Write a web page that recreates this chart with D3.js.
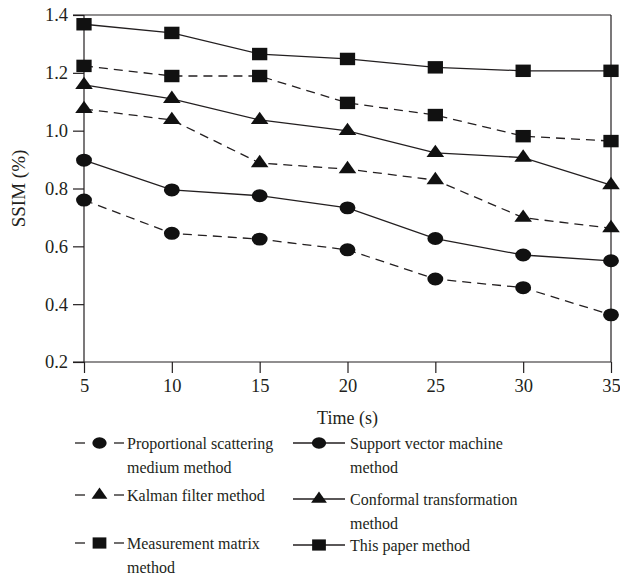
<!DOCTYPE html>
<html>
<head>
<style>
  body { margin: 0; background: #fff; }
  text { font-family: "Liberation Serif", "DejaVu Serif", serif; fill: #231f20; }
</style>
</head>
<body>
<script src="https://d3js.org/d3.v7.min.js"></script>
<script>
const width = 620, height = 576;
const margin = {left: 84, right: 9, top: 15, bottom: 214};

const times = [5, 10, 15, 20, 25, 30, 35];
const yTicks = [0.2, 0.4, 0.6, 0.8, 1.0, 1.2, 1.4];

// SSIM values
const proportional = [0.76, 0.645, 0.625, 0.588, 0.487, 0.457, 0.363];
const kalman       = [1.075, 1.037, 0.888, 0.867, 0.829, 0.699, 0.663];
const measurement  = [1.224, 1.189, 1.189, 1.096, 1.054, 0.981, 0.964];
const svm          = [0.898, 0.795, 0.775, 0.733, 0.627, 0.570, 0.550];
const conformal    = [1.158, 1.110, 1.037, 0.999, 0.923, 0.907, 0.812];
const thisPaper    = [1.368, 1.338, 1.265, 1.248, 1.219, 1.207, 1.207];

const series = [
  {name: ["Proportional scattering", "medium method"], values: proportional, dash: true, sym: "circle", col: 0, y: 443},
  {name: ["Kalman filter method"], values: kalman, dash: true, sym: "triangle", col: 0, y: 495},
  {name: ["Measurement matrix", "method"], values: measurement, dash: true, sym: "square", col: 0, y: 543},
  {name: ["Support vector machine", "method"], values: svm, dash: false, sym: "circle", col: 1, y: 443},
  {name: ["Conformal transformation", "method"], values: conformal, dash: false, sym: "triangle", col: 1, y: 499},
  {name: ["This paper method"], values: thisPaper, dash: false, sym: "square", col: 1, y: 545}
];

const svg = d3.select("body").append("svg").attr("width", width).attr("height", height);

const x = d3.scaleLinear().domain([5, 35]).range([margin.left, width - margin.right]);
const y = d3.scaleLinear().domain([0.2, 1.4]).range([height - margin.bottom, margin.top]);

const symbols = {
  circle: d3.symbol(d3.symbolCircle, 170),
  triangle: d3.symbol(d3.symbolTriangle, 115),
  square: d3.symbol(d3.symbolSquare, 200)
};

function marker(g, type, cx, cy, k = 1) {
  g.append("path")
    .attr("d", symbols[type]())
    .attr("transform", `translate(${cx},${cy}) scale(${1.08 * k},${0.88 * k})`)
    .attr("fill", "#111");
}

// frame
const x0 = x(5), x1 = x(35), yb = y(0.2), yt = y(1.4);
svg.append("line").attr("x1", x0 - 11).attr("x2", x1).attr("y1", yt).attr("y2", yt)
  .attr("stroke", "#231f20").attr("stroke-width", 1.2);
svg.append("line").attr("x1", x1).attr("x2", x1).attr("y1", yt).attr("y2", yb)
  .attr("stroke", "#231f20").attr("stroke-width", 1.2);

const xAxis = svg.append("g").attr("transform", `translate(0,${yb})`)
  .call(d3.axisBottom(x).tickValues(times).tickSize(11).tickPadding(6).tickFormat(d3.format("d")));
const yAxis = svg.append("g").attr("transform", `translate(${x0},0)`)
  .call(d3.axisLeft(y).tickValues(yTicks).tickSize(11).tickPadding(5).tickFormat(d3.format(".1f")));

[xAxis, yAxis].forEach(a => {
  a.attr("font-size", null).attr("font-family", null);
  a.select(".domain").attr("stroke", "#231f20").attr("stroke-width", 1.2);
  a.selectAll(".tick line").attr("stroke", "#231f20").attr("stroke-width", 1.2);
  a.selectAll(".tick text").style("font-size", "18.5px").attr("fill", "#231f20");
});
xAxis.select(".domain").attr("d", `M${x0 - 11},0H${x1}`);
yAxis.select(".domain").attr("d", `M0,${yb}V${yt}`);

svg.append("text").attr("x", x((5 + 35) / 2)).attr("y", 424).attr("text-anchor", "middle")
  .style("font-size", "18px").text("Time (s)");
svg.append("text").attr("transform", `translate(25,${(yt + yb) / 2}) rotate(-90)`)
  .attr("text-anchor", "middle").style("font-size", "19px").text("SSIM (%)");

const line = d3.line().x((d, i) => x(times[i])).y(d => y(d));

series.forEach(s => {
  svg.append("path").datum(s.values).attr("d", line)
    .attr("fill", "none").attr("stroke", "#231f20").attr("stroke-width", 1.3)
    .attr("stroke-dasharray", s.dash ? "9,6" : null);
  const g = svg.append("g");
  s.values.forEach((v, i) => marker(g, s.sym, x(times[i]), y(v)));
});

// legend
const legCols = [{x1: 75, x2: 124, tx: 127}, {x1: 293, x2: 345, tx: 350}];
series.forEach(s => {
  const c = legCols[s.col];
  const g = svg.append("g");
  const segs = s.dash ? [[c.x1, c.x1 + 10], [c.x2 - 10, c.x2]] : [[c.x1, c.x2]];
  segs.forEach(([a, b]) => {
    g.append("line").attr("x1", a).attr("x2", b).attr("y1", s.y).attr("y2", s.y)
      .attr("stroke", "#231f20").attr("stroke-width", 1.3);
  });
  marker(g, s.sym, (c.x1 + c.x2) / 2, s.y, 0.9);
  s.name.forEach((t, k) => {
    g.append("text").attr("x", c.tx).attr("y", s.y + 6 + k * 24)
      .style("font-size", "16px").text(t);
  });
});
</script>
</body>
</html>
